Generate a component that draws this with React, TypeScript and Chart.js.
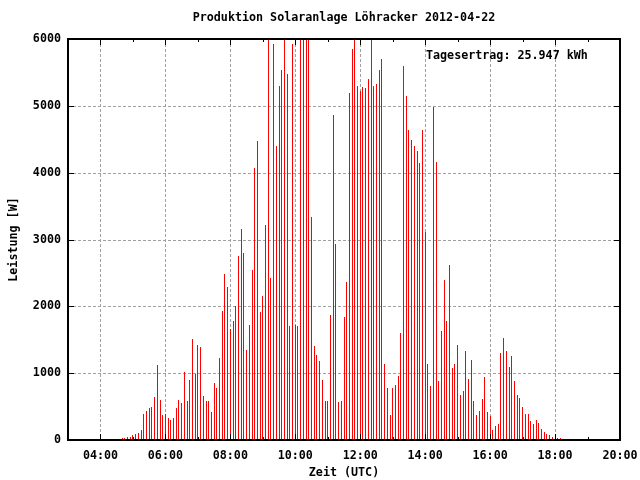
import React, { useEffect, useRef } from "react";
import { Chart, registerables } from "chart.js";

Chart.register(...registerables);

const TITLE = "Produktion Solaranlage Löhracker 2012-04-22";
const X_TITLE = "Zeit (UTC)";
const Y_TITLE = "Leistung [W]";
const ANNOTATION = "Tagesertrag: 25.947 kWh";

// first sample 04:25 UTC, one sample every 5 minutes
const START_HOUR = 4 + 25 / 60;
const STEP_HOURS = 5 / 60;

// power in W (values above 6000 are clipped by the axis)
const POWER_W = [
  15, 15, 15, 30, 30, 45, 45, 75, 90, 105, 150, 390, 435, 480, 495, 645, 1125, 600, 375, 395, 330, 300, 330, 480, 600, 555, 1020,
  585, 900, 1515, 990, 1425, 1395, 660, 585, 585, 420, 855, 780, 1230, 1935, 2490, 2295, 1665, 1785, 2010, 2760, 3150, 2805, 1350, 1725, 2550, 4065, 4470, 1920, 2160,
  3210, 6400, 2430, 5930, 4395, 5300, 5530, 6400, 5470, 1710, 5930, 1725, 1710, 6400, 6400, 6400, 6400, 3330, 1410, 1275, 1185, 900, 585, 585, 1875, 4860, 2940, 570,
  585, 1845, 2370, 5190, 5850, 6400, 5295, 5220, 5280, 5265, 5400, 6400, 5295, 5325, 5535, 5700, 1140, 780, 375, 780, 825, 960, 1605, 5595, 5145, 4635, 4485, 4395, 4320,
  4140, 4635, 3105, 1140, 810, 4980, 4155, 885, 1635, 2400, 1785, 2625, 1080, 1140, 1425, 675, 735, 1335, 915, 1200, 585, 375, 435, 615, 945, 420, 360, 150, 210,
  240, 1305, 1530, 1335, 1095, 1260, 885, 675, 630, 495, 390, 390, 285, 240, 300, 255, 165, 120, 90, 75, 45, 30, 30, 30, 20, 15,
];

const X_MIN = 3;
const X_MAX = 20;
const X_TICK_HOURS = [4, 6, 8, 10, 12, 14, 16, 18, 20];
const X_TICK_LABELS = ["04:00", "06:00", "08:00", "10:00", "12:00", "14:00", "16:00", "18:00", "20:00"];
const X_MINOR_HOURS = [5, 7, 9, 11, 13, 15, 17, 19];
const Y_TICKS = [0, 1000, 2000, 3000, 4000, 5000, 6000];

const FONT_FAMILY = "'DejaVu Sans Mono', 'Liberation Mono', monospace";
const FONT_SIZE = 11.7;

const framePlugin = {
  id: "frame",
  beforeDraw(chart: any) {
    const { ctx } = chart;
    ctx.save();
    ctx.fillStyle = "#ffffff";
    ctx.fillRect(0, 0, chart.width, chart.height);
    ctx.restore();
  },
  beforeDatasetsDraw(chart: any) {
    const { ctx, chartArea: a, scales } = chart;
    const xs = scales.x;
    const ys = scales.y;
    // snap the 1px impulse bars onto whole pixels so they stay crisp
    chart.getDatasetMeta(0).data.forEach((el: any) => {
      el.x = Math.floor(el.x) + 0.5;
      el.y = Math.round(el.y);
    });
    ctx.save();
    ctx.strokeStyle = "#a0a0a0";
    ctx.lineWidth = 1;
    ctx.setLineDash([3, 2]);
    X_TICK_HOURS.forEach((h) => {
      const px = Math.round(xs.getPixelForValue(h)) + 0.5;
      ctx.beginPath();
      ctx.moveTo(px, a.top);
      ctx.lineTo(px, a.bottom);
      ctx.stroke();
    });
    Y_TICKS.forEach((v) => {
      const py = Math.round(ys.getPixelForValue(v)) + 0.5;
      ctx.beginPath();
      ctx.moveTo(a.left, py);
      ctx.lineTo(a.right, py);
      ctx.stroke();
    });
    ctx.restore();
  },
  afterDatasetsDraw(chart: any) {
    const { ctx, chartArea: a, scales } = chart;
    const xs = scales.x;
    const ys = scales.y;
    ctx.save();
    ctx.strokeStyle = "#000000";
    ctx.setLineDash([]);
    ctx.lineWidth = 1;
    const tick = (x1: number, y1: number, x2: number, y2: number) => {
      ctx.beginPath();
      ctx.moveTo(x1, y1);
      ctx.lineTo(x2, y2);
      ctx.stroke();
    };
    X_TICK_HOURS.forEach((h) => {
      const px = Math.round(xs.getPixelForValue(h)) + 0.5;
      tick(px, a.bottom, px, a.bottom - 6);
      tick(px, a.top, px, a.top + 6);
    });
    X_MINOR_HOURS.forEach((h) => {
      const px = Math.round(xs.getPixelForValue(h)) + 0.5;
      tick(px, a.bottom, px, a.bottom - 3);
      tick(px, a.top, px, a.top + 3);
    });
    Y_TICKS.forEach((v) => {
      const py = Math.round(ys.getPixelForValue(v)) + 0.5;
      tick(a.left, py, a.left + 6, py);
      tick(a.right, py, a.right - 6, py);
    });
    ctx.lineWidth = 2;
    ctx.strokeRect(a.left, a.top, a.right - a.left, a.bottom - a.top);

    ctx.fillStyle = "#000000";
    ctx.font = `bold ${FONT_SIZE}px ${FONT_FAMILY}`;
    ctx.textBaseline = "middle";
    ctx.textAlign = "center";
    ctx.fillText(TITLE, (a.left + a.right) / 2, 18);
    ctx.textAlign = "left";
    ctx.fillText(ANNOTATION, 426, 56);
    ctx.restore();
  },
};

export default function App() {
  const canvasRef = useRef<HTMLCanvasElement | null>(null);

  useEffect(() => {
    const canvas = canvasRef.current;
    if (!canvas) return;
    const points = POWER_W.map((w, i) => ({ x: START_HOUR + i * STEP_HOURS, y: w }));
    const font = { family: FONT_FAMILY, size: FONT_SIZE, weight: "bold" as const };
    const chart = new Chart(canvas, {
      type: "bar",
      data: {
        datasets: [
          {
            data: points as any,
            backgroundColor: "#ff0000",
            borderWidth: 0,
            barThickness: 1,
            inflateAmount: 0,
          } as any,
        ],
      },
      options: {
        animation: false,
        responsive: false,
        events: [],
        layout: { padding: { top: 39, right: 20, bottom: 0, left: 0 } },
        plugins: {
          legend: { display: false },
          tooltip: { enabled: false },
          title: { display: false },
        },
        scales: {
          x: {
            type: "linear",
            min: X_MIN,
            max: X_MAX,
            offset: false,
            grid: { display: false, drawTicks: false },
            border: { display: false },
            afterBuildTicks: (scale: any) => {
              scale.ticks = X_TICK_HOURS.map((v) => ({ value: v }));
            },
            afterFit: (scale: any) => {
              scale.height = 40;
              scale.paddingLeft = 0;
              scale.paddingRight = 0;
            },
            ticks: {
              autoSkip: false,
              maxRotation: 0,
              padding: 9,
              color: "#000000",
              font,
              callback: (v: any) => {
                const i = X_TICK_HOURS.indexOf(Number(v));
                return i >= 0 ? X_TICK_LABELS[i] : "";
              },
            },
            title: {
              display: true,
              text: X_TITLE,
              color: "#000000",
              font,
              padding: { top: 0, bottom: 0 },
            },
          },
          y: {
            min: 0,
            max: 6000,
            grid: { display: false, drawTicks: false },
            border: { display: false },
            afterBuildTicks: (scale: any) => {
              scale.ticks = Y_TICKS.map((v) => ({ value: v }));
            },
            afterFit: (scale: any) => {
              scale.width = 68;
              scale.paddingTop = 0;
              scale.paddingBottom = 0;
            },
            ticks: {
              padding: 7,
              color: "#000000",
              font,
              callback: (v: any) => String(v),
            },
            title: {
              display: true,
              text: Y_TITLE,
              color: "#000000",
              font,
              padding: { top: 7, bottom: 0 },
            },
          },
        },
      },
      plugins: [framePlugin],
    });
    return () => chart.destroy();
  }, []);

  return (
    <div style={{ position: "absolute", left: 0, top: 0, width: 640, height: 480, background: "#fff" }}>
      <canvas ref={canvasRef} width={640} height={480} style={{ display: "block", width: 640, height: 480 }} />
    </div>
  );
}
